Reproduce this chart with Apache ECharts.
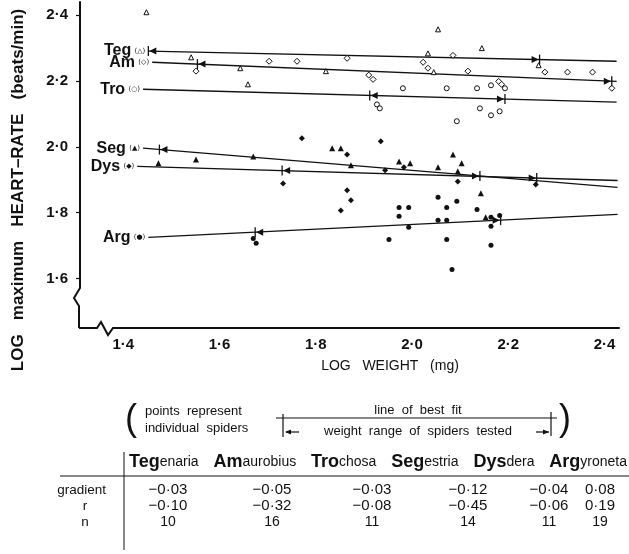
<html>
<head>
<meta charset="utf-8">
<script src="https://cdn.jsdelivr.net/npm/echarts@6/dist/echarts.min.js"></script>
<style>html,body{margin:0;background:#fff}</style>
</head>
<body>
<div id="main" style="width:629px;height:554px;"></div>
<script>
// short names + the marker shown next to each regression line
var shortNames = ['Teg', 'Am', 'Tro', 'Seg', 'Dys', 'Arg'];
var markText = ['\u25B3', '\u25C7', '\u25CB', '\u25B2', '\u25C6', '\u25CF'];

// individual spiders [log weight, log max heart-rate]
var tegPoints = [[1.448, 2.409], [1.541, 2.272], [1.643, 2.239], [1.659, 2.190], [1.821, 2.230],
    [2.033, 2.284], [2.045, 2.227], [2.054, 2.357], [2.145, 2.300], [2.263, 2.248]];
var amPoints = [[1.551, 2.230], [1.703, 2.260], [1.761, 2.260], [1.865, 2.269], [1.910, 2.218],
    [1.919, 2.205], [2.023, 2.257], [2.033, 2.239], [2.085, 2.278], [2.116, 2.230], [2.180, 2.199],
    [2.186, 2.190], [2.276, 2.227], [2.323, 2.227], [2.375, 2.227], [2.415, 2.178]];
var troPoints = [[1.927, 2.129], [1.933, 2.117], [1.981, 2.178], [2.072, 2.178], [2.093, 2.078],
    [2.135, 2.178], [2.141, 2.117], [2.164, 2.187], [2.164, 2.096], [2.182, 2.108], [2.193, 2.178]];
var segPoints = [[1.473, 1.950], [1.551, 1.962], [1.670, 1.971], [1.834, 1.996], [1.852, 1.996],
    [1.873, 1.944], [1.973, 1.956], [1.996, 1.950], [2.054, 1.938], [2.085, 1.977], [2.103, 1.950],
    [2.095, 1.926], [2.143, 1.859], [2.153, 1.786]];
var dysPoints = [[1.732, 1.889], [1.771, 2.026], [1.852, 1.807], [1.865, 1.977], [1.865, 1.868],
    [1.873, 1.838], [1.935, 2.017], [1.944, 1.929], [1.983, 1.938], [2.095, 1.895], [2.257, 1.886]];
var argPoints = [[1.670, 1.722], [1.676, 1.707], [1.952, 1.719], [1.973, 1.816], [1.973, 1.789],
    [1.993, 1.816], [1.993, 1.756], [2.054, 1.847], [2.054, 1.777], [2.072, 1.816], [2.072, 1.777],
    [2.072, 1.719], [2.083, 1.628], [2.093, 1.835], [2.135, 1.810], [2.164, 1.786], [2.164, 1.759],
    [2.164, 1.701], [2.182, 1.792]];

// regression lines (ends) and weight range of each species
var lineStartX = [1.452, 1.460, 1.441, 1.441, 1.429, 1.452];
var lineEndX = [2.425, 2.425, 2.425, 2.427, 2.427, 2.427];
var lineStartY = [2.291, 2.257, 2.175, 1.996, 1.941, 1.725];
var lineEndY = [2.260, 2.199, 2.136, 1.877, 1.898, 1.795];
var rangeMin = [1.452, 1.554, 1.912, 1.475, 1.730, 1.674];
var rangeMax = [2.265, 2.415, 2.193, 2.141, 2.259, 2.184];

var xTicks = [1.4, 1.6, 1.8, 2.0, 2.2, 2.4];
var yTicks = [1.6, 1.8, 2.0, 2.2, 2.4];

// table under the chart
var nameHeads = ['Teg', 'Am', 'Tro', 'Seg', 'Dys', 'Arg'];
var nameTails = ['enaria', 'aurobius', 'chosa', 'estria', 'dera', 'yroneta'];
var gradients = [-0.03, -0.05, -0.03, -0.12, -0.04, 0.08];
var rValues = [-0.10, -0.32, -0.08, -0.45, -0.06, 0.19];
var nValues = [10, 16, 11, 14, 11, 19];

var ink = '#111';
var font = '"Liberation Sans", Arial, sans-serif';

function dot(v, d) {
    return (v < 0 ? '\u2212' : '') + Math.abs(v).toFixed(d).replace('.', '\u00B7');
}
function yOnLine(i, x) {
    var t = (x - lineStartX[i]) / (lineEndX[i] - lineStartX[i]);
    return lineStartY[i] + t * (lineEndY[i] - lineStartY[i]);
}

var myChart = echarts.init(document.getElementById('main'));

var pointSets = [tegPoints, amPoints, troPoints, segPoints, dysPoints, argPoints];
var symbols = ['triangle', 'diamond', 'circle', 'triangle', 'diamond', 'circle'];
var symSizes = [5, 6, 5, 6, 6, 5];
var hollow = [true, true, true, false, false, false];

var series = [];
for (var i = 0; i < 6; i++) {
    series.push({
        type: 'line',
        data: [[lineStartX[i], lineStartY[i]], [lineEndX[i], lineEndY[i]]],
        symbol: 'none',
        lineStyle: {color: ink, width: 1.3},
        z: 2,
        silent: true
    });
    series.push({
        type: 'scatter',
        data: pointSets[i],
        symbol: symbols[i],
        symbolSize: symSizes[i],
        itemStyle: {
            color: hollow[i] ? '#fff' : ink,
            borderColor: ink,
            borderWidth: hollow[i] ? 1 : 0,
            opacity: 1
        },
        z: 3,
        silent: true
    });
}

// name labels + range bars with arrows on each line
var decorData = [];
for (var k = 0; k < 6; k++) decorData.push([lineStartX[k], lineStartY[k], k]);
series.push({
    type: 'custom',
    data: decorData,
    encode: {x: 0, y: 1},
    clip: false,
    z: 4,
    silent: true,
    renderItem: function (params, api) {
        var i = api.value(2);
        var p0 = api.coord([lineStartX[i], lineStartY[i]]);
        var pa = api.coord([rangeMin[i], yOnLine(i, rangeMin[i])]);
        var pb = api.coord([rangeMax[i], yOnLine(i, rangeMax[i])]);
        return {
            type: 'group',
            children: [
                {type: 'text', x: p0[0] - 3, y: p0[1],
                    style: {text: '{n|' + shortNames[i] + '} {m|(' + markText[i] + ')}',
                        align: 'right', verticalAlign: 'middle',
                        rich: {
                            n: {fontFamily: font, fontWeight: 'bold', fontSize: 16, fill: ink},
                            m: {fontFamily: 'DejaVu Sans', fontSize: 7, fill: ink}
                        }}},
                {type: 'line', shape: {x1: pa[0], y1: pa[1] - 5, x2: pa[0], y2: pa[1] + 5},
                    style: {stroke: ink, lineWidth: 1.3}},
                {type: 'polygon', shape: {points: [[pa[0] + 1, pa[1]], [pa[0] + 8, pa[1] - 3.5], [pa[0] + 8, pa[1] + 3.5]]},
                    style: {fill: ink}},
                {type: 'line', shape: {x1: pb[0], y1: pb[1] - 5, x2: pb[0], y2: pb[1] + 5},
                    style: {stroke: ink, lineWidth: 1.3}},
                {type: 'polygon', shape: {points: [[pb[0] - 1, pb[1]], [pb[0] - 8, pb[1] - 3.5], [pb[0] - 8, pb[1] + 3.5]]},
                    style: {fill: ink}}
            ]
        };
    }
});

// legend note + table (text and rules)
var colX = [168, 272, 372, 468, 549, 600];
var graphics = [
    {type: 'text', x: 18, y: 190, rotation: Math.PI / 2,
        style: {text: 'LOG   maximum   HEART\u2013RATE   (beats/min)', font: 'bold 17px ' + font,
            fill: ink, align: 'center', verticalAlign: 'middle'}},
    {type: 'text', x: 390, y: 366,
        style: {text: 'LOG   WEIGHT   (mg)', font: '14px ' + font, fill: ink, align: 'center', verticalAlign: 'middle'}},
    {type: 'text', x: 131, y: 420,
        style: {text: '(', font: '36px ' + font, fill: ink, align: 'center', verticalAlign: 'middle'}},
    {type: 'text', x: 565, y: 420,
        style: {text: ')', font: '36px ' + font, fill: ink, align: 'center', verticalAlign: 'middle'}},
    {type: 'text', x: 145, y: 411,
        style: {text: 'points  represent', font: '13px ' + font, fill: ink, align: 'left', verticalAlign: 'middle'}},
    {type: 'text', x: 145, y: 428,
        style: {text: 'individual  spiders', font: '13px ' + font, fill: ink, align: 'left', verticalAlign: 'middle'}},
    {type: 'text', x: 418, y: 410,
        style: {text: 'line  of  best  fit', font: '13px ' + font, fill: ink, align: 'center', verticalAlign: 'middle'}},
    {type: 'text', x: 418, y: 431,
        style: {text: 'weight  range  of  spiders  tested', font: '13px ' + font, fill: ink, align: 'center', verticalAlign: 'middle'}},
    {type: 'line', shape: {x1: 276, y1: 418, x2: 557, y2: 418}, style: {stroke: ink, lineWidth: 1.2}},
    {type: 'line', shape: {x1: 283, y1: 414, x2: 283, y2: 437}, style: {stroke: ink, lineWidth: 1.2}},
    {type: 'line', shape: {x1: 551, y1: 412, x2: 551, y2: 436}, style: {stroke: ink, lineWidth: 1.2}},
    {type: 'line', shape: {x1: 286, y1: 432, x2: 299, y2: 432}, style: {stroke: ink, lineWidth: 1.2}},
    {type: 'polygon', shape: {points: [[285, 432], [291, 429.5], [291, 434.5]]}, style: {fill: ink}},
    {type: 'line', shape: {x1: 536, y1: 432, x2: 549, y2: 432}, style: {stroke: ink, lineWidth: 1.2}},
    {type: 'polygon', shape: {points: [[549, 432], [543, 429.5], [543, 434.5]]}, style: {fill: ink}},
    {type: 'line', shape: {x1: 60, y1: 476, x2: 629, y2: 476}, style: {stroke: ink, lineWidth: 1.2}},
    {type: 'line', shape: {x1: 124, y1: 452, x2: 124, y2: 550}, style: {stroke: ink, lineWidth: 1}}
];
var rowLabels = ['gradient', 'r', 'n'];
var rowLabelX = [106, 85, 85];
var rowY = [490, 506, 522];
for (var r = 0; r < 3; r++) {
    graphics.push({type: 'text', x: rowLabelX[r], y: rowY[r],
        style: {text: rowLabels[r], font: '13.5px ' + font, fill: ink, align: r ? 'center' : 'right', verticalAlign: 'middle'}});
}

// header names laid out one after another between x=129 and x=627
var headFont = 'bold 18px ' + font, tailFont = '14px ' + font;
var ctx = document.createElement('canvas').getContext('2d');
function textW(t, f) { ctx.font = f; return ctx.measureText(t).width; }
var widths = [], total = 0;
for (var c = 0; c < 6; c++) {
    widths.push(textW(nameHeads[c], headFont) + textW(nameTails[c], tailFont));
    total += widths[c];
}
var gap = Math.max(4, (627 - 129 - total) / 5), hx = 129;
for (var c = 0; c < 6; c++) {
    graphics.push({type: 'text', x: hx, y: 462,
        style: {text: '{h|' + nameHeads[c] + '}{t|' + nameTails[c] + '}', align: 'left', verticalAlign: 'middle',
            rich: {h: {font: headFont, fill: ink}, t: {font: tailFont, fill: ink}}}});
    hx += widths[c] + gap;
    graphics.push({type: 'text', x: colX[c], y: rowY[0],
        style: {text: dot(gradients[c], 2), font: '15px ' + font, fill: ink, align: 'center', verticalAlign: 'middle'}});
    graphics.push({type: 'text', x: colX[c], y: rowY[1],
        style: {text: dot(rValues[c], 2), font: '15px ' + font, fill: ink, align: 'center', verticalAlign: 'middle'}});
    graphics.push({type: 'text', x: colX[c], y: rowY[2],
        style: {text: String(nValues[c]), font: '14px ' + font, fill: ink, align: 'center', verticalAlign: 'middle'}});
}

var option = {
    animation: false,
    backgroundColor: '#fff',
    grid: {left: 80, right: 10, top: 2, bottom: 226, containLabel: false, outerBoundsMode: 'none'},
    xAxis: {
        type: 'value', min: 1.31, max: 2.43,
        axisLine: {lineStyle: {color: ink, width: 2}},
        axisTick: {show: false},
        splitLine: {show: false},
        axisLabel: {customValues: xTicks, color: ink, fontFamily: font, fontWeight: 'bold', fontSize: 15, margin: 9,
            formatter: function (v) { return dot(v, 1); }}
    },
    yAxis: {
        type: 'value', min: 1.45, max: 2.44,
        axisLine: {show: true, lineStyle: {color: ink, width: 2}},
        axisTick: {show: true, customValues: yTicks, length: 4, lineStyle: {color: ink, width: 1.2}},
        splitLine: {show: false},
        axisLabel: {customValues: yTicks, color: ink, fontFamily: font, fontWeight: 'bold', fontSize: 15, margin: 12,
            formatter: function (v) { return dot(v, 1); }}
    },
    series: series
};
myChart.setOption(option);

// axis breaks (zig-zags) placed from the axis origin
var o = myChart.convertToPixel({gridIndex: 0}, [1.31, 1.45]);
graphics.push(
    {type: 'rect', shape: {x: o[0] - 3, y: o[1] - 42, width: 6, height: 41}, style: {fill: '#fff'}, z: 100},
    {type: 'polyline', shape: {points: [[o[0], o[1] - 43], [o[0], o[1] - 40], [o[0] - 6, o[1] - 30], [o[0] - 1, o[1] - 22], [o[0] - 1, o[1]]]},
        style: {stroke: ink, lineWidth: 2, fill: null}, z: 101},
    {type: 'rect', shape: {x: o[0] + 15, y: o[1] - 3, width: 22, height: 6}, style: {fill: '#fff'}, z: 100},
    {type: 'polyline', shape: {points: [[o[0] - 1, o[1]], [o[0] + 17, o[1]], [o[0] + 21, o[1] - 6], [o[0] + 28, o[1] + 7], [o[0] + 33, o[1]], [o[0] + 38, o[1]]]},
        style: {stroke: ink, lineWidth: 2, fill: null}, z: 101}
);
myChart.setOption({graphic: graphics});
</script>
</body>
</html>
